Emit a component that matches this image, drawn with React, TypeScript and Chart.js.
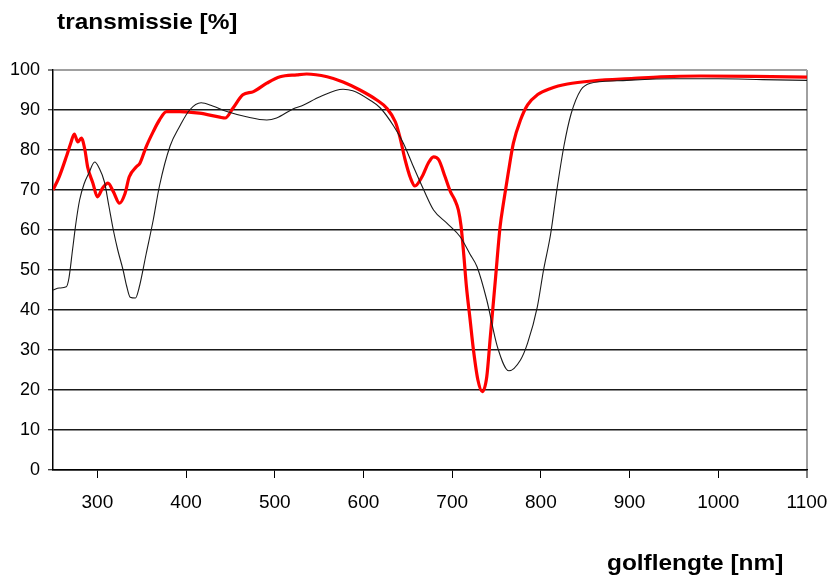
import React, { useEffect, useRef } from "react";
import { Chart, registerables } from "chart.js";

Chart.register(...registerables);

// Reference filter (thin black) – wavelength [nm] and transmission [%]
const refWavelengths = [
  250, 257, 265, 268, 272, 276, 280, 285, 290, 297, 302, 308, 313, 318, 323, 329, 333, 337,
  343, 347, 355, 363, 370, 382, 393, 404, 417, 430, 446, 468, 491, 502, 521, 530, 551, 577,
  588, 607, 619, 634, 645, 656, 668, 679, 694, 709, 720, 728, 739, 751, 764, 777, 785, 796,
  803, 811, 818, 826, 834, 845, 856, 886, 950, 1000, 1050, 1100,
];
const refTransmission = [
  45, 45.5, 45.8, 48, 55, 62, 67.5, 71.5, 74, 77, 75.5, 72, 66, 60, 55, 50, 46, 43.2,
  43, 45.5, 54, 62.5, 71, 81, 86, 90, 91.8, 91, 89.6, 88.3, 87.5, 88, 90.3, 91, 93.3, 95.2,
  94.8, 92.5, 90.5, 86, 81.7, 76, 70, 65, 61.7, 58.3, 54, 50.8, 42.5, 30.8, 24.8, 27.5, 31.7, 40.8,
  50, 59, 70, 81, 89, 95, 96.7, 97.3, 97.8, 97.8, 97.6, 97.4,
];

// Measured filter (thick red) – wavelength [nm] and transmission [%]
const sampleWavelengths = [
  250, 257, 265, 270, 274, 278, 282, 286, 289, 295, 300, 306, 312, 318, 325, 331, 336, 344,
  348, 355, 363, 370, 378, 393, 415, 438, 444, 453, 464, 476, 491, 506, 525, 536, 559, 577,
  596, 615, 626, 636, 641, 647, 653, 658, 666, 673, 679, 685, 692, 698, 703, 707, 710, 713,
  716, 720, 724, 729, 734, 739, 743, 749, 754, 758, 763, 769, 777, 785, 796, 811, 830, 860,
  905, 935, 980, 1040, 1100,
];
const sampleTransmission = [
  70, 73.3, 78.3, 81.7, 84, 82, 83, 80, 75.8, 71.7, 68.3, 70.5, 71.7, 69.6, 66.7, 69, 73.3, 75.8,
  76.7, 80.8, 84.6, 87.5, 89.6, 89.6, 89.2, 88.2, 88, 90.5, 93.8, 94.6, 96.7, 98.3, 98.8, 99, 98.3, 97,
  95, 92.5, 90.5, 87, 83.3, 77.5, 73, 71, 73.3, 76.7, 78.3, 77.5, 73.3, 69.6, 67.5, 65, 61, 54,
  46, 38, 30, 22.5, 19.6, 23.3, 33.3, 48.3, 60.8, 67, 74, 81.7, 87.5, 91.3, 93.8, 95.4, 96.5, 97.3,
  97.9, 98.3, 98.5, 98.4, 98.2,
];

const xTickValues = [300, 400, 500, 600, 700, 800, 900, 1000, 1100];
const yTitle = "transmissie [%]";
const xTitle = "golflengte [nm]";

const FONT = "'Liberation Sans', Arial, sans-serif";

const toPoints = (xs: number[], ys: number[]) => xs.map((x, i) => ({ x, y: ys[i] }));

// Draws the bold axis captions (top-left and bottom-right), slightly stretched horizontally
const captionPlugin = {
  id: "captions",
  afterDraw(chart: any) {
    const ctx = chart.ctx as CanvasRenderingContext2D;
    const draw = (text: string, x: number, y: number) => {
      ctx.save();
      ctx.font = `bold 22px ${FONT}`;
      ctx.fillStyle = "#000";
      ctx.textBaseline = "alphabetic";
      ctx.textAlign = "left";
      ctx.translate(x, y);
      ctx.scale(1.11, 1);
      ctx.fillText(text, 0, 0);
      ctx.restore();
    };
    draw(yTitle, 57, 29);
    draw(xTitle, 607, 570);
  },
};

export default function App() {
  const canvasRef = useRef<HTMLCanvasElement | null>(null);

  useEffect(() => {
    if (!canvasRef.current) return;
    const chart = new Chart(canvasRef.current, {
      type: "line",
      data: {
        datasets: [
          {
            label: "referentie",
            data: toPoints(refWavelengths, refTransmission),
            borderColor: "#1a1a1a",
            borderWidth: 1.1,
            pointRadius: 0,
            cubicInterpolationMode: "monotone",
            fill: false,
          },
          {
            label: "meting",
            data: toPoints(sampleWavelengths, sampleTransmission),
            borderColor: "#ff0000",
            borderWidth: 3.2,
            pointRadius: 0,
            cubicInterpolationMode: "monotone",
            fill: false,
          },
        ],
      },
      options: {
        responsive: false,
        animation: false,
        events: [],
        layout: { padding: { left: 0, top: 70, right: 20, bottom: 0 } },
        plugins: {
          legend: { display: false },
          title: { display: false },
          tooltip: { enabled: false },
        },
        scales: {
          x: {
            type: "linear",
            min: 250,
            max: 1100,
            afterBuildTicks: (scale: any) => {
              scale.ticks = xTickValues.map((v) => ({ value: v }));
            },
            afterFit: (scale: any) => {
              scale.height = 106;
              scale.paddingLeft = 0;
              scale.paddingRight = 0;
            },
            ticks: {
              autoSkip: false,
              maxRotation: 0,
              padding: 13,
              color: "#000",
              font: { family: FONT, size: 19 },
              callback: (v: any) => String(v),
            },
            grid: {
              drawOnChartArea: true,
              drawTicks: true,
              tickLength: 8,
              tickColor: "#000",
              tickWidth: 1,
              color: (c: any) => (c.tick && c.tick.value === 1100 ? "#a0a0a0" : "rgba(0,0,0,0)"),
              lineWidth: (c: any) => (c.tick && c.tick.value === 1100 ? 2 : 1),
            },
            border: { display: true, color: "#000", width: 1.5 },
          },
          y: {
            min: 0,
            max: 100,
            afterFit: (scale: any) => {
              scale.width = 53;
            },
            ticks: {
              stepSize: 10,
              padding: 8,
              color: "#000",
              font: { family: FONT, size: 18 },
            },
            grid: {
              drawTicks: true,
              tickLength: 5,
              tickColor: "#000",
              tickWidth: 1,
              color: (c: any) => (c.tick && c.tick.value === 100 ? "#a0a0a0" : "#1a1a1a"),
              lineWidth: (c: any) => (c.tick && c.tick.value === 100 ? 2 : 1.5),
            },
            border: { display: true, color: "#000", width: 1.5 },
          },
        },
      },
      plugins: [captionPlugin],
    } as any);
    return () => chart.destroy();
  }, []);

  return (
    <div style={{ position: "fixed", left: 0, top: 0, width: 827, height: 576, background: "#fff" }}>
      <canvas ref={canvasRef} width={827} height={576} />
    </div>
  );
}
